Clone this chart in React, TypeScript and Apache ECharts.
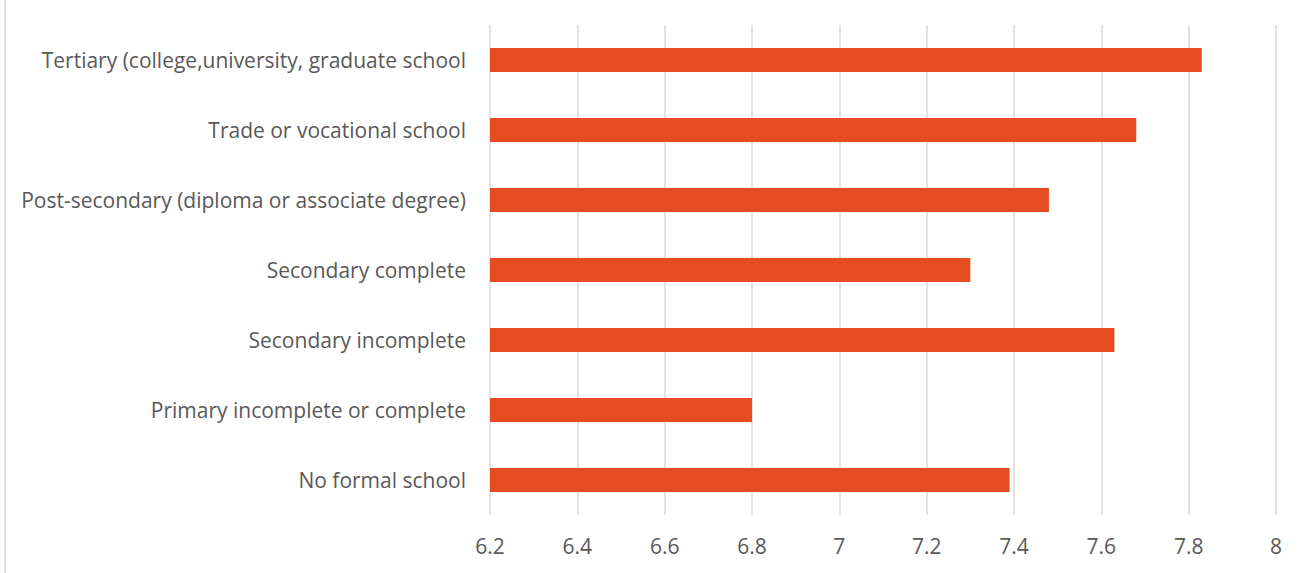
import React, { useEffect, useRef } from "react";
import * as echarts from "echarts";

const categories = [
  "No formal school",
  "Primary incomplete or complete",
  "Secondary incomplete",
  "Secondary complete",
  "Post-secondary (diploma or associate degree)",
  "Trade or vocational school",
  "Tertiary (college,university, graduate school",
];
const values = [7.39, 6.8, 7.63, 7.3, 7.48, 7.68, 7.83];
const xMin = 6.2;
const xMax = 8;
const xInterval = 0.2;

export default function App() {
  const ref = useRef<HTMLDivElement>(null);
  useEffect(() => {
    if (!ref.current) return;
    const chart = echarts.init(ref.current, undefined, { renderer: "svg" });
    chart.setOption({
      animation: false,
      backgroundColor: "#ffffff",
      textStyle: { fontFamily: "Open Sans" },
      grid: { left: 490, right: 32, top: 25, bottom: 58 },
      xAxis: {
        type: "value",
        min: xMin,
        max: xMax,
        interval: xInterval,
        axisLine: { show: false },
        axisTick: { show: false },
        splitLine: { show: true, lineStyle: { color: "#d9d9d9", width: 1.5 } },
        axisLabel: {
          color: "#595959",
          fontSize: 21,
          margin: 20,
          formatter: (v: number) => String(parseFloat(v.toFixed(1))),
        },
      },
      yAxis: {
        type: "category",
        data: categories,
        axisLine: { show: false },
        axisTick: { show: false },
        splitLine: { show: false },
        axisLabel: { color: "#595959", fontSize: 21, margin: 24 },
      },
      series: [
        {
          type: "bar",
          data: values,
          barWidth: 24,
          itemStyle: { color: "#E64C22" },
        },
      ],
      graphic: [
        {
          type: "line",
          shape: { x1: 5, y1: 0, x2: 5, y2: 573 },
          style: { stroke: "#d9d9d9", lineWidth: 1.5 },
        },
      ],
    });
    return () => chart.dispose();
  }, []);
  return (
    <div
      ref={ref}
      style={{ position: "fixed", left: 0, top: 0, width: 1308, height: 573 }}
    />
  );
}
